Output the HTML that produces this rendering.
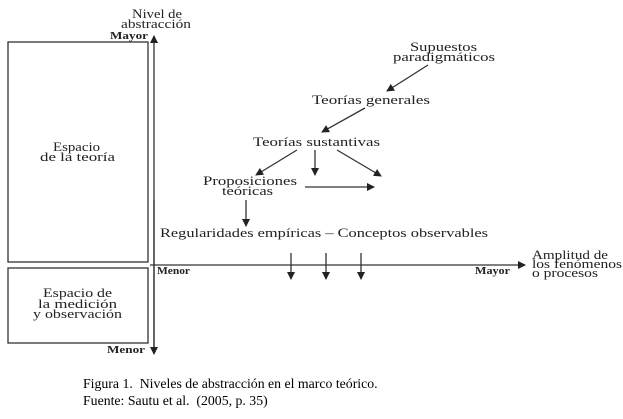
<!DOCTYPE html>
<html><head><meta charset="utf-8"><style>
body{margin:0;background:#fff;width:623px;height:419px;overflow:hidden}
svg text{font-family:"Liberation Serif",serif;fill:#222}
.c{position:absolute;left:83px;font-family:"Liberation Serif",serif;font-size:13.8px;color:#000}
</style></head><body>
<svg width="623" height="419" style="position:absolute;left:0;top:0">
<defs><marker id="a" markerWidth="8" markerHeight="8" refX="7" refY="4" orient="auto" markerUnits="userSpaceOnUse"><path d="M0,0L8,4L0,8z" fill="#222"/></marker></defs>
<g stroke="#333" fill="none" stroke-width="1.3">
<rect x="8" y="42" width="140" height="220"/>
<rect x="8" y="268" width="140" height="75"/>
<line x1="154" y1="352" x2="154" y2="36" marker-end="url(#a)"/>
<line x1="154" y1="200" x2="154" y2="354" marker-end="url(#a)"/>
<line x1="150" y1="265" x2="525" y2="265" marker-end="url(#a)"/>
<line x1="428" y1="65" x2="387" y2="91" marker-end="url(#a)"/>
<line x1="365" y1="108" x2="322" y2="132" marker-end="url(#a)"/>
<line x1="297" y1="150" x2="256" y2="175" marker-end="url(#a)"/>
<line x1="315" y1="150" x2="315" y2="175" marker-end="url(#a)"/>
<line x1="337" y1="150" x2="381" y2="176" marker-end="url(#a)"/>
<line x1="305" y1="187" x2="374" y2="187" marker-end="url(#a)"/>
<line x1="246" y1="200" x2="246" y2="226" marker-end="url(#a)"/>
<line x1="291" y1="253" x2="291" y2="279" marker-end="url(#a)"/>
<line x1="326" y1="253" x2="326" y2="279" marker-end="url(#a)"/>
<line x1="361" y1="253" x2="361" y2="279" marker-end="url(#a)"/>
</g>
<g font-size="13">
<text x="132" y="18" textLength="50" lengthAdjust="spacingAndGlyphs">Nivel de</text>
<text x="121" y="28" textLength="70" lengthAdjust="spacingAndGlyphs">abstracción</text>
<text x="110" y="39" font-weight="bold" font-size="11" textLength="38" lengthAdjust="spacingAndGlyphs">Mayor</text>
<text x="53" y="151" textLength="47" lengthAdjust="spacingAndGlyphs">Espacio</text>
<text x="40" y="161" textLength="75" lengthAdjust="spacingAndGlyphs">de la teoría</text>
<text x="43" y="297" textLength="69" lengthAdjust="spacingAndGlyphs">Espacio de</text>
<text x="38" y="308" textLength="79" lengthAdjust="spacingAndGlyphs">la medición</text>
<text x="33" y="318" textLength="89" lengthAdjust="spacingAndGlyphs">y observación</text>
<text x="107" y="353" font-size="11" font-weight="bold" textLength="38" lengthAdjust="spacingAndGlyphs">Menor</text>
<text x="157" y="274" font-size="11" font-weight="bold" textLength="33" lengthAdjust="spacingAndGlyphs">Menor</text>
<text x="475" y="274" font-size="11" font-weight="bold" textLength="35" lengthAdjust="spacingAndGlyphs">Mayor</text>
<text x="532" y="259" textLength="76" lengthAdjust="spacingAndGlyphs">Amplitud de</text>
<text x="532" y="268" textLength="90" lengthAdjust="spacingAndGlyphs">los fenómenos</text>
<text x="532" y="277" textLength="66" lengthAdjust="spacingAndGlyphs">o procesos</text>
<text x="410" y="51" textLength="67" lengthAdjust="spacingAndGlyphs">Supuestos</text>
<text x="393" y="61" textLength="102" lengthAdjust="spacingAndGlyphs">paradigmáticos</text>
<text x="312" y="104" textLength="118" lengthAdjust="spacingAndGlyphs">Teorías generales</text>
<text x="253" y="146" textLength="127" lengthAdjust="spacingAndGlyphs">Teorías sustantivas</text>
<text x="203" y="185" textLength="94" lengthAdjust="spacingAndGlyphs">Proposiciones</text>
<text x="222" y="195" textLength="51" lengthAdjust="spacingAndGlyphs">teóricas</text>
<text x="160" y="237" textLength="328" lengthAdjust="spacingAndGlyphs">Regularidades empíricas – Conceptos observables</text>
</g>
</svg>
<div class="c" style="top:376px">Figura 1.&nbsp; Niveles de abstracción en el marco teórico.</div>
<div class="c" style="top:393px">Fuente: Sautu et al.&nbsp; (2005, p. 35)</div>
</body></html>
